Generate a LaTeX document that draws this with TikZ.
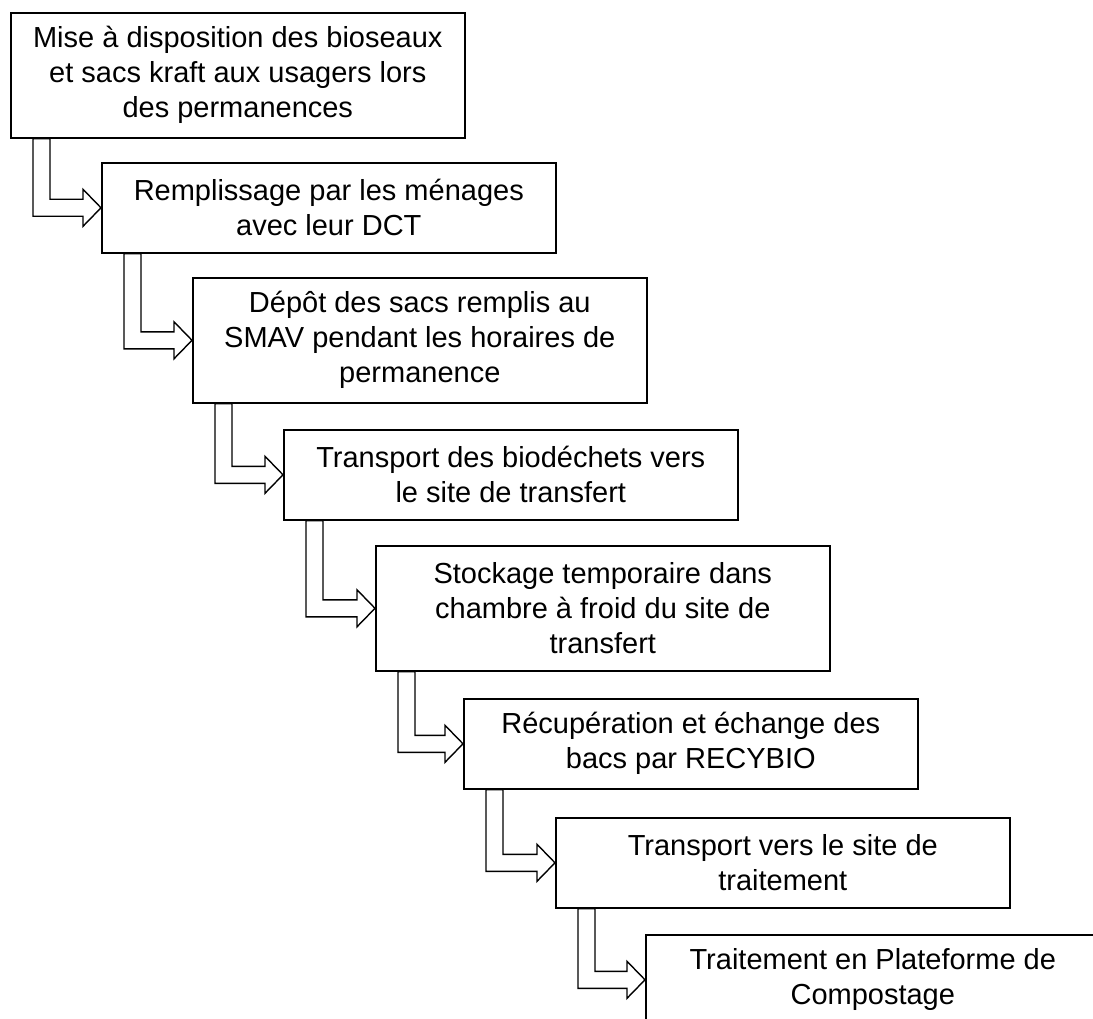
\documentclass[tikz,border=0pt]{standalone}
\usepackage{fontspec}
\setmainfont{Liberation Sans}
\usetikzlibrary{calc}

\tikzset{
  stepbox/.style={draw, line width=1.6pt, fill=white, anchor=north west,
    minimum width=454pt, align=center, inner sep=0pt,
    font=\fontsize{29}{35}\selectfont},
  tallbox/.style={stepbox, minimum height=125pt},
  lowbox/.style={stepbox, minimum height=90pt},
  flowarrow/.style={draw, line width=1.4pt, fill=white, line join=miter},
}

\begin{document}
\begin{tikzpicture}[x=1pt, y=1pt]

\useasboundingbox (0,0) rectangle (1093,-1019);
\clip (0,0) rectangle (1093,-1019);

\node[tallbox] (mise) at (10,-12)
    {Mise à disposition des bioseaux\\et sacs kraft aux usagers lors\\des permanences};
\node[lowbox] (remplissage) at (101,-162)
    {Remplissage par les ménages\\avec leur DCT};
\node[tallbox] (depot) at (192,-277)
    {Dépôt des sacs remplis au\\SMAV pendant les horaires de\\permanence};
\node[lowbox] (transport) at (283,-429)
    {Transport des biodéchets vers\\le site de transfert};
\node[tallbox] (stockage) at (375,-545)
    {Stockage temporaire dans\\chambre à froid du site de\\transfert};
\node[lowbox] (recup) at (463,-698)
    {Récupération et échange des\\bacs par RECYBIO};
\node[lowbox] (versTraitement) at (555,-817)
    {Transport vers le site de\\traitement};
\node[lowbox] (traitement) at (645,-934)
    {Traitement en Plateforme de\\Compostage};

% block arrows between the steps
\foreach \a/\b in {mise/remplissage, remplissage/depot, depot/transport,
    transport/stockage, stockage/recup, recup/versTraitement,
    versTraitement/traitement}
  \draw[flowarrow] ($(\a.south west)+(23,0)$) |- ($(\b.west)+(-18,-8.5)$)
    -- ++(0,-10) -- (\b.west) -- ++(-18,18.5) -- ++(0,-10)
    -| ($(\a.south west)+(40,0)$) -- cycle;

\end{tikzpicture}
\end{document}
